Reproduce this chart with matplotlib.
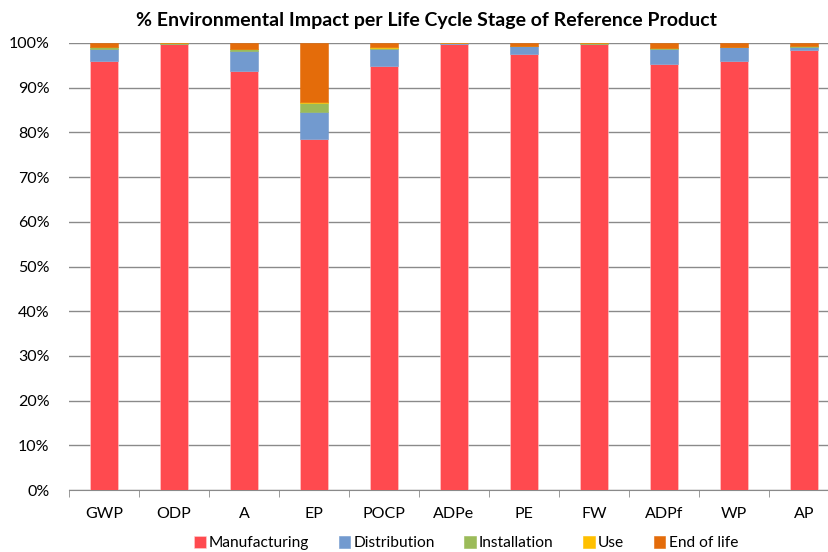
import matplotlib.pyplot as plt
import numpy as np

categories = ["GWP", "ODP", "A", "EP", "POCP", "ADPe", "PE", "FW", "ADPf", "WP", "AP"]
manufacturing = [96.0, 99.7, 93.7, 78.5, 94.9, 99.8, 97.5, 99.7, 95.4, 96.0, 98.4]
distribution = [2.7, 0.1, 4.6, 6.1, 3.7, 0.1, 1.8, 0.1, 3.2, 3.0, 0.6]
installation = [0.4, 0.1, 0.3, 2.0, 0.3, 0.0, 0.1, 0.1, 0.3, 0.1, 0.3]
use = [0.1, 0.0, 0.1, 0.1, 0.1, 0.0, 0.0, 0.0, 0.0, 0.0, 0.1]
end_of_life = [0.8, 0.1, 1.3, 13.3, 1.0, 0.1, 0.6, 0.1, 1.1, 0.9, 0.6]

series = [("Manufacturing", manufacturing, "#ff4a4f"),
          ("Distribution", distribution, "#729acf"),
          ("Installation", installation, "#9bbb59"),
          ("Use", use, "#ffc000"),
          ("End of life", end_of_life, "#e46c0a")]

plt.rcParams['font.family'] = ['Lato', 'DejaVu Sans']

fig = plt.figure(figsize=(8.29, 5.52), dpi=100)
ax = fig.add_axes([69 / 829, 62 / 552, 770 / 829, 447 / 552])

x = np.arange(len(categories))
bottom = np.zeros(len(categories))
for name, vals, col in series:
    vals = np.array(vals)
    ax.bar(x, vals, 0.4, bottom=bottom, color=col, label=name,
           edgecolor="#ffd0d0" if name == "Manufacturing" else col, linewidth=0.4, zorder=3)
    bottom += vals

ax.set_xlim(-0.5, len(categories) - 0.5)
ax.set_ylim(0, 100)
ax.set_yticks(np.arange(0, 101, 10))
ax.set_yticklabels([f"{v}%" for v in range(0, 101, 10)], fontsize=11.5)
ax.yaxis.grid(True, color="#8a8a8a", linewidth=1.0, zorder=0)
ax.tick_params(axis="y", length=0, pad=14)

ax.set_xticks(x)
ax.set_xticklabels(categories, fontsize=11.5)
ax.set_xticks(np.arange(-0.5, len(categories), 1), minor=True)
ax.tick_params(axis="x", which="major", length=0, pad=12)
ax.tick_params(axis="x", which="minor", length=5, color="#8a8a8a", direction="out")

for s in ["left", "right", "top"]:
    ax.spines[s].set_visible(False)
ax.spines["bottom"].set_color("#8a8a8a")

fig.text(426.5 / 829, 0.963, "% Environmental Impact per Life Cycle Stage of Reference Product",
         ha="center", va="center", fontsize=14, fontweight="bold")

fig.legend(loc="center", bbox_to_anchor=(0.562, 0.016), ncol=5, frameon=False,
           fontsize=11.2, handlelength=0.75, handleheight=0.75, handletextpad=0.2,
           columnspacing=1.9)

fig.savefig("out.png", dpi=100)
